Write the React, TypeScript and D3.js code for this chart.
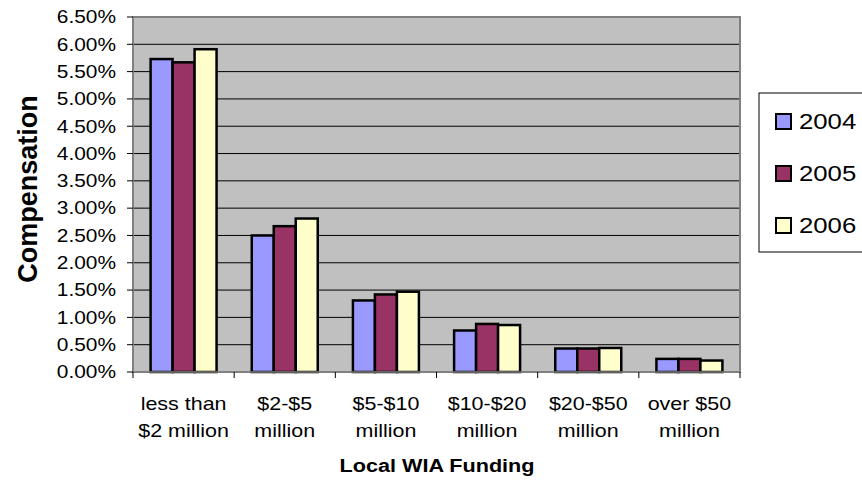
import React from "react";
import * as d3 from "d3";

const categories = [
  ["less than", "$2 million"],
  ["$2-$5", "million"],
  ["$5-$10", "million"],
  ["$10-$20", "million"],
  ["$20-$50", "million"],
  ["over $50", "million"],
];
const seriesNames = ["2004", "2005", "2006"];
const values2004 = [5.73, 2.5, 1.31, 0.76, 0.43, 0.24];
const values2005 = [5.67, 2.67, 1.42, 0.88, 0.43, 0.24];
const values2006 = [5.91, 2.81, 1.47, 0.86, 0.44, 0.21];
const yTicks = [0, 0.5, 1, 1.5, 2, 2.5, 3, 3.5, 4, 4.5, 5, 5.5, 6, 6.5];
const colors = ["#9999FF", "#993366", "#FFFFCC"];

function T(props: { x: number; y: number; sx?: number; size: number; anchor?: string; bold?: boolean; dy?: string; children: any }) {
  const { x, y, sx = 1.16, size, anchor = "start", bold, dy, children } = props;
  return (
    <text transform={`translate(${x},${y}) scale(${sx},1)`} textAnchor={anchor} fontSize={size}
      fontWeight={bold ? "bold" : "normal"} dy={dy} fill="#000">{children}</text>
  );
}

export default function App() {
  const W = 862, H = 482;
  const left = 133, right = 740, top = 17, bottom = 372;
  const series = [values2004, values2005, values2006];
  const x = d3.scaleBand<number>().domain(d3.range(categories.length)).range([left, right]).paddingInner(0).paddingOuter(0);
  const inner = d3.scaleBand<number>().domain([0, 1, 2]).range([0, x.bandwidth()]).paddingOuter(0.8).paddingInner(0);
  const y = d3.scaleLinear().domain([0, 6.5]).range([bottom, top]);
  const font = "Arial, 'Liberation Sans', sans-serif";
  return (
    <svg width={W} height={H} style={{ position: "absolute", left: 0, top: 0 }} fontFamily={font}>
      <rect x={left} y={top} width={right - left} height={bottom - top} fill="#C0C0C0" />
      {yTicks.slice(1).map((t) => (
        <line key={t} x1={left} x2={right} y1={y(t)} y2={y(t)} stroke="#000" strokeWidth={1} />
      ))}
      <rect x={left} y={top} width={right - left} height={bottom - top} fill="none" stroke="#808080" strokeWidth={2} />
      {series.map((vals, si) =>
        vals.map((v, ci) => {
          const bx = (x(ci) as number) + (inner(si) as number);
          return (
            <rect key={`${si}-${ci}`} x={bx} y={y(v)} width={inner.bandwidth()} height={bottom - y(v)}
              fill={colors[si]} stroke="#000" strokeWidth={2.5} />
          );
        })
      )}
      <line x1={left} x2={left} y1={top} y2={bottom} stroke="#808080" strokeWidth={1.5} />
      <line x1={left} x2={right} y1={bottom} y2={bottom} stroke="#808080" strokeWidth={1.5} />
      {yTicks.map((t) => (
        <g key={t}>
          <line x1={left - 6} x2={left} y1={y(t)} y2={y(t)} stroke="#000" />
          <T x={116} y={y(t)} dy="0.35em" anchor="end" size={18}>{t.toFixed(2) + "%"}</T>
        </g>
      ))}
      {d3.range(categories.length + 1).map((i) => {
        const xx = left + i * x.step();
        return <line key={i} x1={xx} x2={xx} y1={bottom} y2={bottom + 6} stroke="#000" />;
      })}
      {categories.map((c, i) => (
        <g key={i}>
          <T x={(x(i) as number) + x.bandwidth() / 2} y={410} anchor="middle" size={18.5}>{c[0]}</T>
          <T x={(x(i) as number) + x.bandwidth() / 2} y={437} anchor="middle" size={18.5}>{c[1]}</T>
        </g>
      ))}
      <T x={437} y={472} anchor="middle" size={18.5} bold sx={1.17}>Local WIA Funding</T>
      <text transform="translate(37,189) rotate(-90)" textAnchor="middle" fontSize={27} fontWeight="bold">Compensation</text>
      <rect x={759} y={93} width={110} height={159} fill="#fff" stroke="#000" strokeWidth={1} />
      {seriesNames.map((s, i) => (
        <g key={s}>
          <rect x={776} y={114 + i * 52} width={15} height={15} fill={colors[i]} stroke="#000" strokeWidth={2} />
          <T x={799} y={129 + i * 52} size={22} sx={1.17}>{s}</T>
        </g>
      ))}
    </svg>
  );
}
